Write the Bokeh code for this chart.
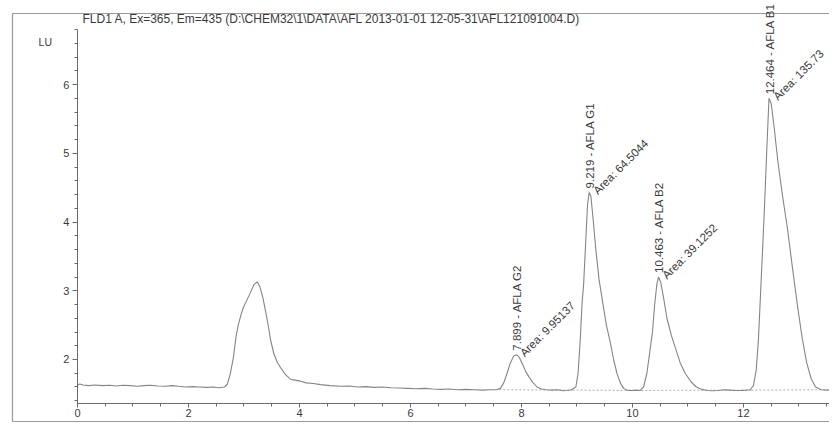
from bokeh.plotting import figure
from bokeh.models import Range1d, FixedTicker, Label, ColumnDataSource
from bokeh.core.properties import value
from bokeh.embed import file_html
from bokeh.resources import INLINE
import math

# ---------------- data ----------------
title_text = "FLD1 A, Ex=365, Em=435 (D:\\CHEM32\\1\\DATA\\AFL 2013-01-01 12-05-31\\AFL121091004.D)"
y_unit = "LU"

ret_time = [
    0.00, 0.04, 0.10, 0.20, 0.32, 0.45, 0.58, 0.70, 0.82, 0.95, 1.08, 1.20, 1.32, 1.45, 1.58, 1.70, 1.82, 1.95, 2.08, 2.20, 2.32, 2.45, 2.55,
    2.65, 2.70, 2.75, 2.81, 2.86, 2.90, 2.95, 2.99, 3.05, 3.12, 3.18, 3.24, 3.29, 3.34, 3.39, 3.44, 3.48, 3.54, 3.60, 3.66, 3.75, 3.84, 3.92, 4.02, 4.12, 4.25, 4.38, 4.55, 4.74,
    4.90, 5.05, 5.20, 5.35, 5.50, 5.65, 5.80, 5.95, 6.10, 6.25, 6.40, 6.55, 6.70, 6.85, 7.00, 7.15, 7.30, 7.45, 7.55,
    7.62, 7.68, 7.74, 7.80, 7.86, 7.91, 7.96, 8.02, 8.08, 8.14, 8.20, 8.28, 8.36, 8.45, 8.55, 8.65, 8.75, 8.82, 8.90,
    8.98, 9.02, 9.06, 9.09, 9.12, 9.16, 9.19, 9.22, 9.25, 9.29, 9.34, 9.40, 9.46, 9.53, 9.60, 9.66, 9.72, 9.78, 9.84, 9.90, 9.98, 10.06, 10.14,
    10.20, 10.26, 10.31, 10.36, 10.40, 10.44, 10.47, 10.51, 10.56, 10.62, 10.70, 10.78, 10.86, 10.95, 11.05, 11.15, 11.25, 11.35, 11.45, 11.55, 11.65, 11.75, 11.85, 11.95, 12.05, 12.12,
    12.18, 12.23, 12.27, 12.31, 12.35, 12.38, 12.42, 12.46, 12.50, 12.55, 12.62, 12.70, 12.79, 12.88, 12.97, 13.06, 13.14, 13.22, 13.30, 13.40, 13.50, 13.60,
]
signal = [
    1.62, 1.645, 1.63, 1.62, 1.63, 1.62, 1.625, 1.615, 1.625, 1.62, 1.61, 1.62, 1.625, 1.615, 1.61, 1.62, 1.61, 1.60, 1.605, 1.60, 1.595, 1.60, 1.59,
    1.60, 1.64, 1.78, 2.03, 2.35, 2.51, 2.66, 2.76, 2.86, 2.98, 3.09, 3.13, 3.05, 2.90, 2.70, 2.48, 2.28, 2.08, 1.96, 1.88, 1.78, 1.71, 1.70, 1.685, 1.66, 1.65, 1.635, 1.62, 1.61,
    1.615, 1.60, 1.605, 1.595, 1.60, 1.59, 1.585, 1.58, 1.575, 1.58, 1.57, 1.565, 1.57, 1.56, 1.565, 1.56, 1.555, 1.56, 1.56,
    1.58, 1.66, 1.80, 1.95, 2.05, 2.07, 2.03, 1.93, 1.82, 1.74, 1.67, 1.60, 1.57, 1.56, 1.555, 1.56, 1.545, 1.55, 1.56,
    1.60, 1.80, 2.30, 2.80, 3.10, 3.75, 4.25, 4.43, 4.38, 4.05, 3.60, 3.15, 2.85, 2.50, 2.25, 2.00, 1.80, 1.66, 1.58, 1.555, 1.55, 1.555, 1.55,
    1.60, 1.80, 2.10, 2.40, 2.80, 3.10, 3.20, 3.12, 2.90, 2.60, 2.35, 2.15, 1.95, 1.80, 1.68, 1.60, 1.565, 1.55, 1.545, 1.55, 1.56, 1.555, 1.55, 1.55, 1.555, 1.56,
    1.62, 1.85, 2.30, 3.00, 3.70, 4.25, 5.05, 5.80, 5.72, 5.40, 4.88, 4.40, 3.92, 3.35, 2.80, 2.30, 1.95, 1.72, 1.60, 1.56, 1.555, 1.56,
]

peak_rt = [7.899, 9.219, 10.463, 12.464]
peak_top = [2.07, 4.43, 3.20, 5.80]
peak_name = ["AFLA G2", "AFLA G1", "AFLA B2", "AFLA B1"]
peak_area = ["9.95137", "64.5044", "39.1252", "135.73"]

base_start = [7.60, 8.92, 10.16, 12.14]
base_end = [8.92, 10.16, 12.14, 13.60]
base_level_start = [1.56, 1.555, 1.55, 1.555]
base_level_end = [1.555, 1.55, 1.555, 1.56]

x_major = [0, 2, 4, 6, 8, 10, 12]
y_major = [2, 3, 4, 5, 6]

# ---------------- figure ----------------
FONT = "Liberation Sans"
TXT = "#3a3a3a"
AX = "#6a6a6a"
FRAME = "#9a9a9a"

p = figure(width=829, height=422, output_backend="svg", toolbar_location=None,
           x_range=Range1d(-1.387, 13.55), y_range=Range1d(1.0836, 7.222),
           min_border_left=0, min_border_right=0, min_border_top=0, min_border_bottom=0)
p.outline_line_color = None
p.xgrid.visible = False
p.ygrid.visible = False
p.background_fill_color = "white"
p.border_fill_color = "white"

# axes: the library's own axes, pinned at t=0 and at the bottom of the signal scale
p.xaxis.fixed_location = 1.36
p.yaxis.fixed_location = 0
p.xaxis.bounds = (0, 13.55)
p.yaxis.bounds = (1.36, 6.8)
p.xaxis.ticker = FixedTicker(ticks=x_major, minor_ticks=[i * 0.5 for i in range(0, 28)])
p.yaxis.ticker = FixedTicker(ticks=y_major, minor_ticks=[round(1.4 + i * 0.2, 2) for i in range(0, 28)])
for ax in (p.xaxis[0], p.yaxis[0]):
    ax.axis_line_color = AX
    ax.major_tick_line_color = AX
    ax.minor_tick_line_color = AX
    ax.major_tick_out = 5
    ax.major_tick_in = 0
    ax.minor_tick_out = 3
    ax.minor_tick_in = 0
    ax.major_label_text_font = FONT
    ax.major_label_text_font_size = "11px"
    ax.major_label_text_color = TXT
    ax.major_label_standoff = 3
p.xaxis.major_tick_out = 4
p.xaxis.major_label_standoff = 2

# outer printout frame (left, top, bottom edges)
p.segment(x0=[-1.171, -1.171, -1.171], y0=[1.098, 7.033, 1.098],
          x1=[-1.171, 14.0, 14.0], y1=[7.033, 7.033, 1.098],
          line_color=FRAME, line_width=1.2)

# title and unit
p.add_layout(Label(x=0.09, y=6.96, text=title_text, text_font=FONT, text_font_size="12px",
                   text_color=TXT, text_baseline="middle", text_align="left"))
p.add_layout(Label(x=-0.58, y=6.625, text=y_unit, text_font=FONT, text_font_size="10.5px",
                   text_color=TXT, text_baseline="middle", text_align="center"))

# integration baselines
p.segment(x0=base_start, y0=base_level_start, x1=base_end, y1=base_level_end,
          line_color="#b0b0b0", line_width=1, line_dash="2 2")

# trace
p.line(ret_time, signal, line_color="#858585", line_width=1.1)

# peak labels
src = ColumnDataSource(dict(
    x=peak_rt, y=peak_top,
    vt=[f"{rt} - {n}" for rt, n in zip(peak_rt, peak_name)],
    at=[f"Area: {a}" for a in peak_area],
))
p.text(x="x", y="y", text="vt", source=src, angle=math.pi / 2, text_align="left",
       text_baseline="middle", x_offset=1, y_offset=-4,
       text_font=value(FONT), text_font_size="11.5px", text_color=TXT)
p.text(x="x", y="y", text="at", source=src, angle=math.pi / 4, text_align="left",
       text_baseline="middle", x_offset=6, y_offset=0,
       text_font=value(FONT), text_font_size="11.5px", text_color=TXT)

open("out.html", "w").write(file_html(p, INLINE))
